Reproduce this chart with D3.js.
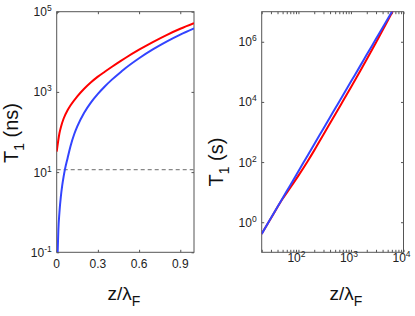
<!DOCTYPE html>
<meta charset="utf-8">
<style>
  body { margin: 0; background: #fff; }
  svg { font-family: "Liberation Sans", Arial, sans-serif; }
  .tick line { stroke: #555; }
  .domain { display: none; }
</style>
<body>
<svg width="415" height="316"></svg>
<script src="https://cdn.jsdelivr.net/npm/d3@7"></script>
<script>
// ---- left panel data: z/lambda_F (linear) vs T1 (ns)
const zLeftRed  = [0, 0.02, 0.032, 0.05, 0.08, 0.1, 0.15, 0.2, 0.25, 0.3, 0.35, 0.4, 0.47, 0.5, 0.6, 0.7, 0.8, 0.9, 1.0];
const tLeftRed  = [32.4, 93, 138, 214, 355, 457, 776, 1200, 1740, 2400, 3185, 4180, 6030, 7015, 11300, 17500, 26200, 37500, 51700];
const zLeftBlue = [0.007, 0.012, 0.02, 0.03, 0.04, 0.05, 0.06, 0.08, 0.1, 0.128, 0.15, 0.2, 0.25, 0.3, 0.35, 0.4, 0.47, 0.5, 0.6, 0.7, 0.8, 0.9, 1.0];
const tLeftBlue = [0.1, 0.355, 1.0, 2.4, 4.57, 7.6, 11.7, 22.9, 43.7, 89, 138, 302, 550, 891, 1365, 1995, 3200, 3890, 6920, 11480, 17990, 26900, 38500];
const threshold = 11.5; // ns, dashed line
const leftXTicks = [0, 0.3, 0.6, 0.9];
const leftYTicks = [1e-1, 1e1, 1e3, 1e5];

// ---- right panel data: z/lambda_F (log) vs T1 (s)
const zRight    = [20, 30, 50, 70, 100, 150, 200, 300, 500, 700, 1000, 1500, 2000, 3000, 5000, 6300];
const tRightRed  = [0.41, 1.35, 6.0, 14.1, 35.5, 107, 245, 832, 3800, 10500, 30900, 1.07e5, 2.63e5, 9.5e5, 5.0e6, 1.07e7];
const tRightBlue = [0.41, 1.37, 6.3, 17.1, 49.7, 166, 392, 1310, 6010, 16400, 47400, 1.58e5, 3.74e5, 1.25e6, 5.74e6, 1.14e7];
const rightXTicks = [1e2, 1e3, 1e4];
const rightYTicks = [1e0, 1e2, 1e4, 1e6];

const RED = "#ff0000", BLUE = "#3344ff", AX = "#555";
const svg = d3.select("svg");

const pow10Label = (sel, v) => {
  const e = Math.round(Math.log10(v));
  sel.text("10");
  sel.append("tspan").attr("dy", -5).attr("font-size", 8.5).text(e);
};

function panel(id, xs, ys, xTicks, yTicks, xMinor) {
  const g = svg.append("g").attr("id", id);
  const [x0, x1] = xs.range(), [y0, y1] = ys.range();
  g.append("clipPath").attr("id", id + "clip")
    .append("rect").attr("x", x0).attr("y", y1).attr("width", x1 - x0).attr("height", y0 - y1);

  const tick = 2.5;
  const allX = xMinor ? xMinor : xTicks;
  g.append("g").attr("transform", `translate(0,${y0})`)
    .call(d3.axisBottom(xs).tickValues(allX).tickSizeInner(-tick).tickSizeOuter(0).tickFormat(""));
  g.append("g").attr("transform", `translate(0,${y1})`)
    .call(d3.axisTop(xs).tickValues(allX).tickSizeInner(-tick).tickSizeOuter(0).tickFormat(""));
  g.append("g").attr("transform", `translate(${x0},0)`)
    .call(d3.axisLeft(ys).tickValues(yTicks).tickSizeInner(-tick).tickSizeOuter(0).tickFormat(""));
  g.append("g").attr("transform", `translate(${x1},0)`)
    .call(d3.axisRight(ys).tickValues(yTicks).tickSizeInner(-tick).tickSizeOuter(0).tickFormat(""));

  g.append("rect").attr("x", x0).attr("y", y1).attr("width", x1 - x0).attr("height", y0 - y1)
    .attr("fill", "none").attr("stroke", AX).attr("stroke-width", 1);

  // y tick labels
  g.selectAll(".ylab").data(yTicks).join("text")
    .attr("class", "ylab")
    .attr("x", x0 - 5).attr("y", d => ys(d) + 4.5)
    .attr("text-anchor", "end").attr("font-size", 12).attr("fill", "#222")
    .each(function (d) { pow10Label(d3.select(this), d); });
  return g;
}

// ---- left
const xL = d3.scaleLinear().domain([0, 1]).range([56.7, 194]);
const yL = d3.scaleLog().domain([1e-1, 1e5]).range([252.3, 11.7]);
const gL = panel("left", xL, yL, leftXTicks, leftYTicks, null);

gL.selectAll(".xlab").data(leftXTicks).join("text")
  .attr("x", d => xL(d)).attr("y", 267.5)
  .attr("text-anchor", "middle").attr("font-size", 12).attr("fill", "#222")
  .text(d => d === 0 ? "0" : d.toFixed(1));

gL.append("line")
  .attr("x1", xL(0)).attr("x2", xL(1))
  .attr("y1", yL(threshold)).attr("y2", yL(threshold))
  .attr("stroke", "#888").attr("stroke-width", 1.2).attr("stroke-dasharray", "4,3");

const lineL = d3.line().x(d => xL(d[0])).y(d => yL(d[1])).curve(d3.curveMonotoneX);
gL.append("path").datum(d3.zip(zLeftBlue, tLeftBlue)).attr("d", lineL)
  .attr("clip-path", "url(#leftclip)")
  .attr("fill", "none").attr("stroke", BLUE).attr("stroke-width", 2);
gL.append("path").datum(d3.zip(zLeftRed, tLeftRed)).attr("d", lineL)
  .attr("clip-path", "url(#leftclip)")
  .attr("fill", "none").attr("stroke", RED).attr("stroke-width", 2);

// ---- right
const xR = d3.scaleLog().domain([20, 1e4]).range([261.7, 403.5]);
const yR = d3.scaleLog().domain([1e-1, 1e7]).range([252.3, 11.7]);
const minorR = [];
for (let dec = 10; dec < 1e4; dec *= 10)
  for (let k = 1; k < 10; k++) { const v = k * dec; if (v >= 20) minorR.push(v); }
minorR.push(1e4);
const gR = panel("right", xR, yR, rightXTicks, rightYTicks, minorR);

gR.selectAll(".xlab").data(rightXTicks).join("text")
  .attr("x", d => xR(d) - 2).attr("y", 262)
  .attr("text-anchor", "middle").attr("font-size", 12).attr("fill", "#222")
  .each(function (d) { pow10Label(d3.select(this), d); });

const lineR = d3.line().x(d => xR(d[0])).y(d => yR(d[1])).curve(d3.curveMonotoneX);
gR.append("path").datum(d3.zip(zRight, tRightRed)).attr("d", lineR)
  .attr("clip-path", "url(#rightclip)")
  .attr("fill", "none").attr("stroke", RED).attr("stroke-width", 2);
gR.append("path").datum(d3.zip(zRight, tRightBlue)).attr("d", lineR)
  .attr("clip-path", "url(#rightclip)")
  .attr("fill", "none").attr("stroke", BLUE).attr("stroke-width", 2);

// ---- axis titles
function yTitle(x, y, unit) {
  const t = svg.append("text").attr("transform", `translate(${x},${y}) rotate(-90)`)
    .attr("text-anchor", "middle").attr("font-size", 20).attr("fill", "#111");
  t.append("tspan").text("T");
  t.append("tspan").attr("dy", 6).attr("font-size", 14).text("1");
  t.append("tspan").attr("dy", -6).text(" (" + unit + ")");
}
function xTitle(x, y) {
  const t = svg.append("text").attr("x", x).attr("y", y)
    .attr("text-anchor", "middle").attr("font-size", 19).attr("fill", "#111");
  t.append("tspan").text("z/λ");
  t.append("tspan").attr("dy", 6).attr("font-size", 14).text("F");
}
yTitle(18, 133, "ns");
yTitle(223, 162, "s");
xTitle(124, 300);
xTitle(346, 300);
</script>
</body>
